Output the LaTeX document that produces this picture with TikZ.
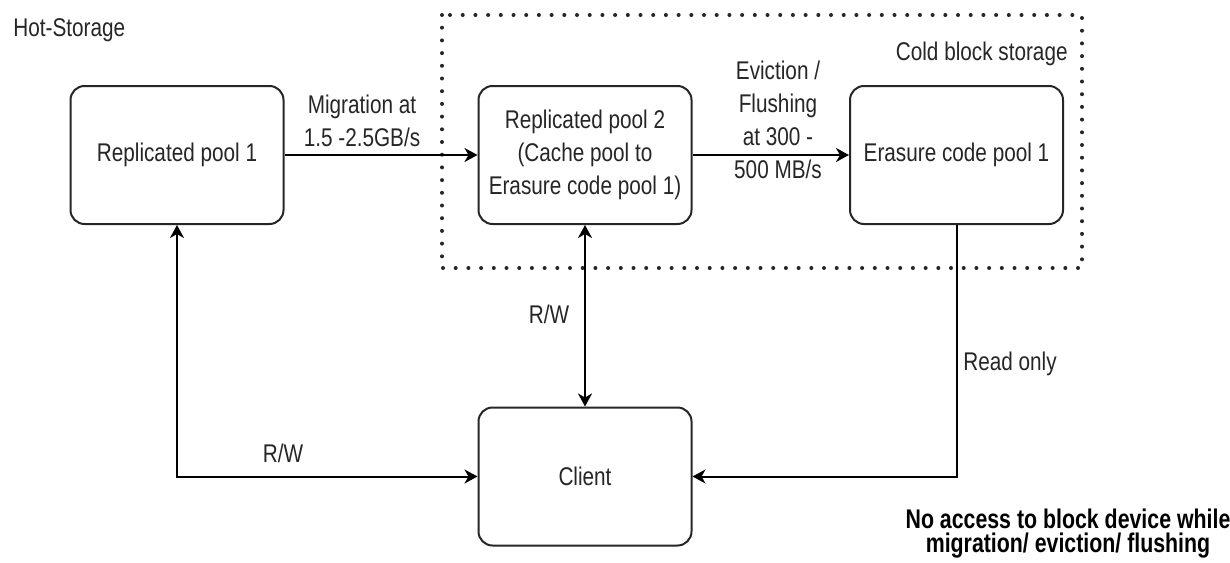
\documentclass[tikz,border=0pt]{standalone}
\usepackage{fontspec}
\setmainfont{Liberation Sans}[FakeStretch=0.81]
\newfontfamily\notefont{Liberation Sans}[FakeStretch=0.79]
\usetikzlibrary{arrows.meta}
\begin{document}
\begin{tikzpicture}[x=0.5pt,y=-0.5pt,
  pool/.style={draw=black!85, line width=1pt, rounded corners=7pt,
    minimum width=106.5pt, minimum height=69pt, align=center, inner sep=0pt,
    font=\fontsize{12.8}{16.5}\selectfont, text=black!85},
  lbl/.style={align=center, inner sep=0pt,
    font=\fontsize{12.8}{16.5}\selectfont, text=black!85},
  link/.style={line width=1pt, draw=black,
    >={Stealth[length=6.5pt,width=7pt,inset=2pt]}},
  zone/.style={line width=2pt, dash pattern=on 0pt off 6.35pt,
    line cap=round, draw=black!85}]
\useasboundingbox (0,0) rectangle (1230,562);
\fill[white] (0,0) rectangle (1230,562);

% cold storage zone
\draw[zone] (442,15) rectangle (1082,268);
\node[lbl, anchor=base west] (hot) at (13,36) {Hot-Storage};
\node[lbl, anchor=base east] (cold) at (1068,60) {Cold block storage};

% pools
\node[pool] (rp1) at (177,155) {Replicated pool 1};
\node[pool] (rp2) at (585,155) {Replicated pool 2\\(Cache pool to\\Erasure code pool 1)};
\node[pool] (ec) at (956.5,155) {Erasure code pool 1};
\node[pool] (cl) at (585,476.5) {Client};

% data paths
\draw[link,->] (rp1.east) -- (rp2.west);
\draw[link,->] (rp2.east) -- (ec.west);
\draw[link,<->] (rp2.south) -- (cl.north);
\draw[link,<->] (rp1.south) |- (cl.west);
\draw[link,->] (ec.south) |- (cl.east);

% path labels
\node[lbl] (mig) at (362,121) {Migration at\\1.5 -2.5GB/s};
\node[lbl] (evi) at (778,120) {Eviction /\\Flushing\\at 300 -\\500 MB/s};
\node[lbl, anchor=base] (rw1) at (549,323) {R/W};
\node[lbl, anchor=base] (rw2) at (283,462) {R/W};
\node[lbl, anchor=base] (ro) at (1010,370) {Read only};

% note
\node[align=center, inner sep=0pt, text=black,
  font=\notefont\bfseries\fontsize{13.5}{12}\selectfont] (note) at (1068,534)
  {No access to block device while\\migration/ eviction/ flushing};
\end{tikzpicture}
\end{document}
